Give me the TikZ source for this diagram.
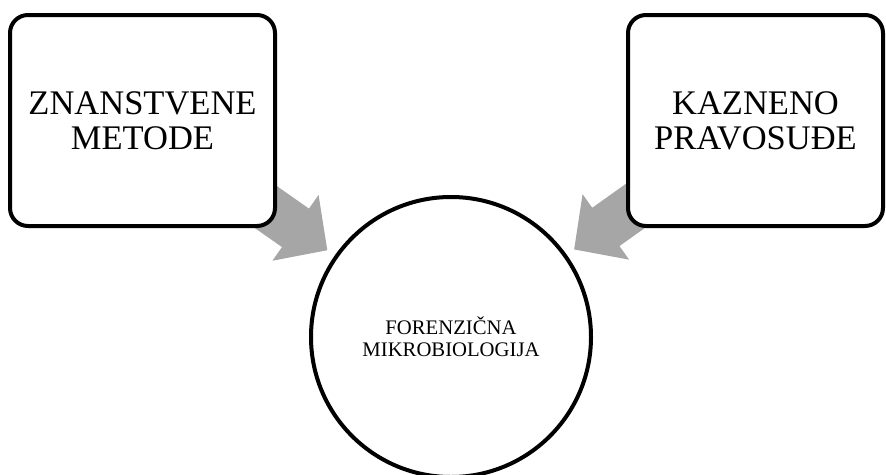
\documentclass[tikz,border=0pt]{standalone}
\usepackage{fontspec}
\setmainfont{Liberation Serif}
\usetikzlibrary{arrows.meta,backgrounds}
\definecolor{arrowGray}{RGB}{166,166,166}

\begin{document}
\begin{tikzpicture}
[x=1pt,y=-1pt,
  boxDecorate/.style={shape=rectangle,draw,line width=4pt,rounded corners=18pt,
    fill=white,align=center,font=\fontsize{34.5}{35}\selectfont,minimum height=211pt},
  circleDecorate/.style={shape=circle,draw,line width=4pt,fill=white,minimum size=280pt,
    align=center,font=\fontsize{20.7}{22}\selectfont},
  arrowDecorate/.style={draw=arrowGray,line width=47pt,
    -{Triangle[length=39pt,width=78pt]},shorten >=9pt}]
\useasboundingbox (0,0) rectangle (886,474);
%% nodes or vertices
\node (zm) at (142.5,120.5) [boxDecorate,minimum width=265pt] {ZNANSTVENE\\METODE};
\node (kp) at (755.5,120.5) [boxDecorate,minimum width=255pt] {KAZNENO\\PRAVOSUĐE};
\node (fm) at (451,337) [circleDecorate] {FORENZIČNA\\MIKROBIOLOGIJA};
%% arrows
\begin{pgfonlayer}{background}
\foreach \startnode in {zm, kp}
{
  \draw[arrowDecorate] (\startnode.center) -- (fm);
}
\end{pgfonlayer}
\end{tikzpicture}
\end{document}
